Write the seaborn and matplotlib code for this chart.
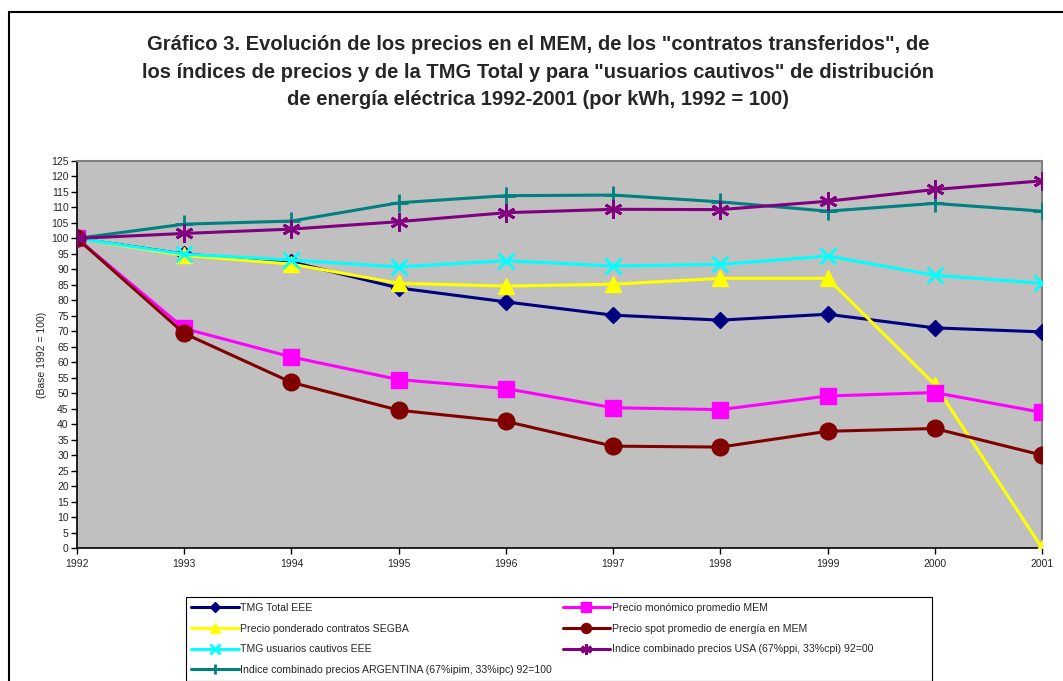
import numpy as np
import pandas as pd
import matplotlib
matplotlib.use("Agg")
import matplotlib.pyplot as plt
from matplotlib.patches import Rectangle
import seaborn as sns

years = [1992, 1993, 1994, 1995, 1996, 1997, 1998, 1999, 2000, 2001]

tmg_total = [100, 94.9, 92.4, 84.0, 79.5, 75.2, 73.6, 75.5, 71.1, 69.8]
monomico = [100, 70.9, 61.7, 54.4, 51.5, 45.3, 44.7, 49.1, 50.2, 43.8]
segba = [100, 94.5, 91.7, 85.5, 84.6, 85.2, 87.1, 87.1, 52.8, 0]
spot = [100, 69.3, 53.5, 44.5, 40.9, 32.9, 32.6, 37.7, 38.6, 30.0]
cautivos = [100, 94.9, 93.0, 90.8, 92.8, 91.1, 91.6, 94.3, 88.1, 85.5]
usa = [100, 101.6, 103.0, 105.4, 108.3, 109.4, 109.3, 112.0, 115.8, 118.6]
argentina = [100, 104.6, 105.6, 111.5, 113.8, 114.0, 111.8, 108.8, 111.3, 108.8]

labels = [
    "TMG Total EEE",
    "Precio ponderado contratos SEGBA",
    "TMG usuarios cautivos EEE",
    "Indice combinado precios ARGENTINA (67%ipim, 33%ipc) 92=100",
    "Precio monómico promedio MEM",
    "Precio spot promedio de energía en MEM",
    "Indice combinado precios USA (67%ppi, 33%cpi) 92=00",
]
series = [tmg_total, segba, cautivos, argentina, monomico, spot, usa]
colors = ["#000080", "#FFFF00", "#00FFFF", "#008080", "#FF00FF", "#800000", "#800080"]
markers = ["D", "^", "x", "+", "s", "o", (6, 2, 0)]
msizes = [8, 11, 11, 13, 11, 12, 13]

sns.set_style("white")
plt.rcParams["font.family"] = ["Liberation Sans", "DejaVu Sans"]

fig = plt.figure(figsize=(10.63, 6.81), dpi=100)
ax = fig.add_axes([77 / 1063, 1 - 548 / 681, (1042 - 77) / 1063, (548 - 161) / 681])
ax.set_facecolor("#C0C0C0")

# draw back to front like the original (later series on top)
order = [5, 4, 1, 0, 2, 6, 3]
for i in order:
    df = pd.DataFrame({"year": years, "value": series[i]})
    sns.lineplot(data=df, x="year", y="value", ax=ax, color=colors[i], linewidth=2.2,
                 marker=markers[i], markersize=msizes[i], markeredgecolor=colors[i],
                 markeredgewidth=2 if markers[i] in ("x", "+", (6, 2, 0)) else 1,
                 label=labels[i], zorder=3 + i)

ax.set_xlim(1992, 2001)
ax.set_ylim(0, 125)
ax.set_xticks(years)
ax.set_yticks(np.arange(0, 126, 5))
ax.tick_params(axis="both", labelsize=7.5, length=4, width=1, color="black",
               direction="out", pad=2, left=True, bottom=True)
ax.tick_params(axis="x", pad=4)
ax.set_xlabel("")
ax.set_ylabel("(Base 1992 = 100)", fontsize=7.5, labelpad=3)
for s in ["left", "bottom"]:
    ax.spines[s].set_color("#000000")
    ax.spines[s].set_linewidth(1.2)
for s in ["top", "right"]:
    ax.spines[s].set_color("#808080")
    ax.spines[s].set_linewidth(1.5)

handles, labs = ax.get_legend_handles_labels()
hmap = dict(zip(labs, handles))
ax.legend([hmap[l] for l in labels], labels, ncol=2, fontsize=7.6,
          loc="upper left", bbox_to_anchor=(188 / 1063, 1 - 600 / 681),
          bbox_transform=fig.transFigure, frameon=False,
          handlelength=4.5, handletextpad=0.15,
          columnspacing=1.0, labelspacing=1.0, borderpad=0.3, markerscale=0.6,
          borderaxespad=0)

# legend box spans further right than its contents, as in the original
fig.patches.append(Rectangle((186 / 1063, 1 - 681 / 681), (932 - 186) / 1063, (681 - 597) / 681,
                             transform=fig.transFigure, fill=False,
                             edgecolor="black", linewidth=0.8))

fig.text(538 / 1063, 1 - 72 / 681,
         "Gráfico 3. Evolución de los precios en el MEM, de los \"contratos transferidos\", de\n"
         "los índices de precios y de la TMG Total y para \"usuarios cautivos\" de distribución\n"
         "de energía eléctrica 1992-2001 (por kWh, 1992 = 100)",
         ha="center", va="center", fontsize=14.5, fontweight="bold", linespacing=1.55)

fig.patches.append(Rectangle((9 / 1063, -0.1), 1.2, 1 - 12 / 681 + 0.1,
                             transform=fig.transFigure, fill=False,
                             edgecolor="black", linewidth=1.5))

fig.savefig("out.png", dpi=100)
